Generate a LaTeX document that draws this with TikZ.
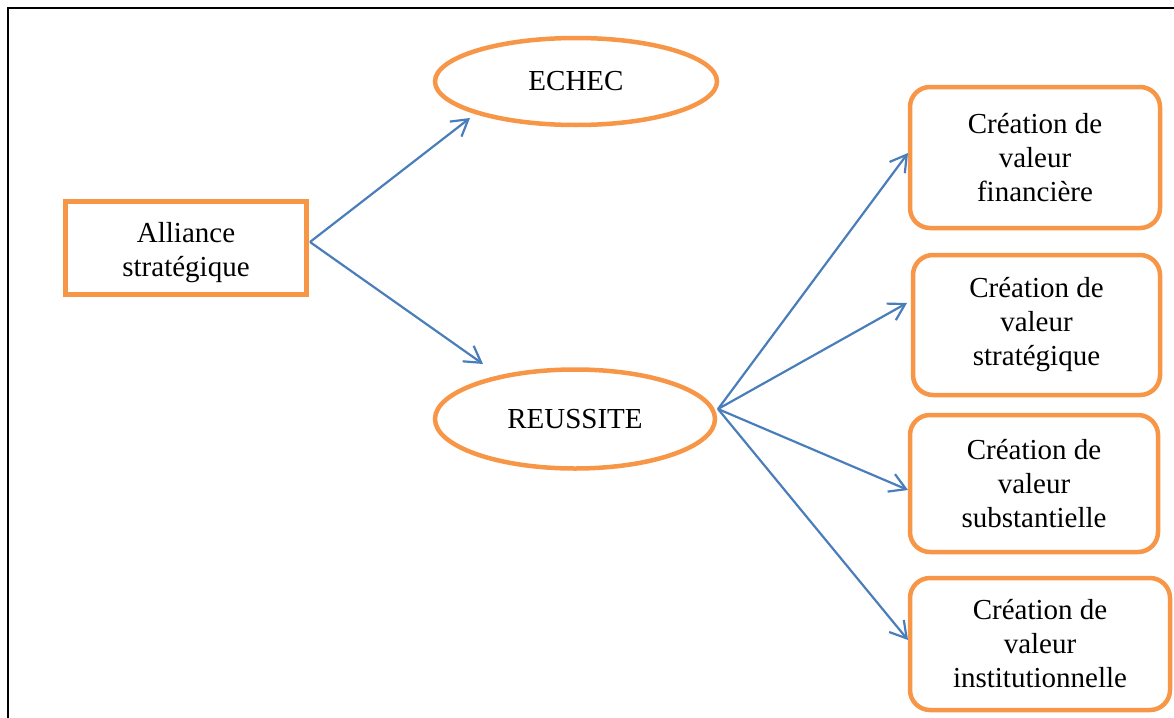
\documentclass[tikz,border=0pt]{standalone}
\usepackage{fontspec}
\setmainfont{Liberation Serif}
\usetikzlibrary{arrows.meta,shapes.geometric}
\definecolor{orng}{HTML}{F79646}
\definecolor{blu}{HTML}{4A7EBB}
\begin{document}
\begin{tikzpicture}[x=1pt,y=-1pt,
  txt/.style={font=\fontsize{29}{34}\selectfont, align=center, text=black},
  sqbox/.style={txt, draw=orng, line width=4.5pt, rectangle, inner sep=0pt},
  rbox/.style={txt, draw=orng, line width=4.5pt, rectangle, rounded corners=20pt, inner sep=0pt},
  oval/.style={txt, draw=orng, line width=4.5pt, ellipse, inner sep=0pt},
  conn/.style={draw=blu, line width=2.2pt, -{Straight Barb[length=16pt,width=19pt,line width=2.2pt]}}
]
\useasboundingbox (0,0) rectangle (1174,717);
\draw[line width=2.2pt, line cap=rect] (7.7,717) -- (7.7,7.7) -- (1174,7.7);

\node[sqbox, minimum width=241pt, minimum height=93pt] (alliance) at (186,248) {\raisebox{-5pt}[\height][\depth]{\begin{tabular}{@{}c@{}}Alliance\\strat\'egique\end{tabular}}};
\node[oval, minimum width=282pt, minimum height=87pt] (echec) at (576,81.5) {ECHEC};
\node[oval, minimum width=280pt, minimum height=99pt] (reussite) at (575,419) {REUSSITE};

\node[rbox, minimum width=250pt, minimum height=141pt] (f1) at (1035,157.5) {Cr\'eation de\\valeur\\financi\`ere};
\node[rbox, minimum width=247pt, minimum height=140pt] (f2) at (1036.5,325) {Cr\'eation de\\valeur\\strat\'egique};
\node[rbox, minimum width=248pt, minimum height=137pt] (f3) at (1034,483.5) {Cr\'eation de\\valeur\\substantielle};
\node[rbox, minimum width=260pt, minimum height=132pt] (f4) at (1040,644) {Cr\'eation de\\valeur\\institutionnelle};

\coordinate (as) at (310,242);
\coordinate (ae) at (470,118);
\coordinate (ar) at (483,364);
\coordinate (rs) at (718,409);
\coordinate (t1) at (908,153);
\coordinate (t2) at (907,303);
\coordinate (t3) at (908,490);
\coordinate (t4) at (908,640);

\draw[conn] (as) -- (ae);
\draw[conn] (as) -- (ar);
\draw[conn] (rs) -- (t1);
\draw[conn] (rs) -- (t2);
\draw[conn] (rs) -- (t3);
\draw[conn] (rs) -- (t4);
\end{tikzpicture}
\end{document}
